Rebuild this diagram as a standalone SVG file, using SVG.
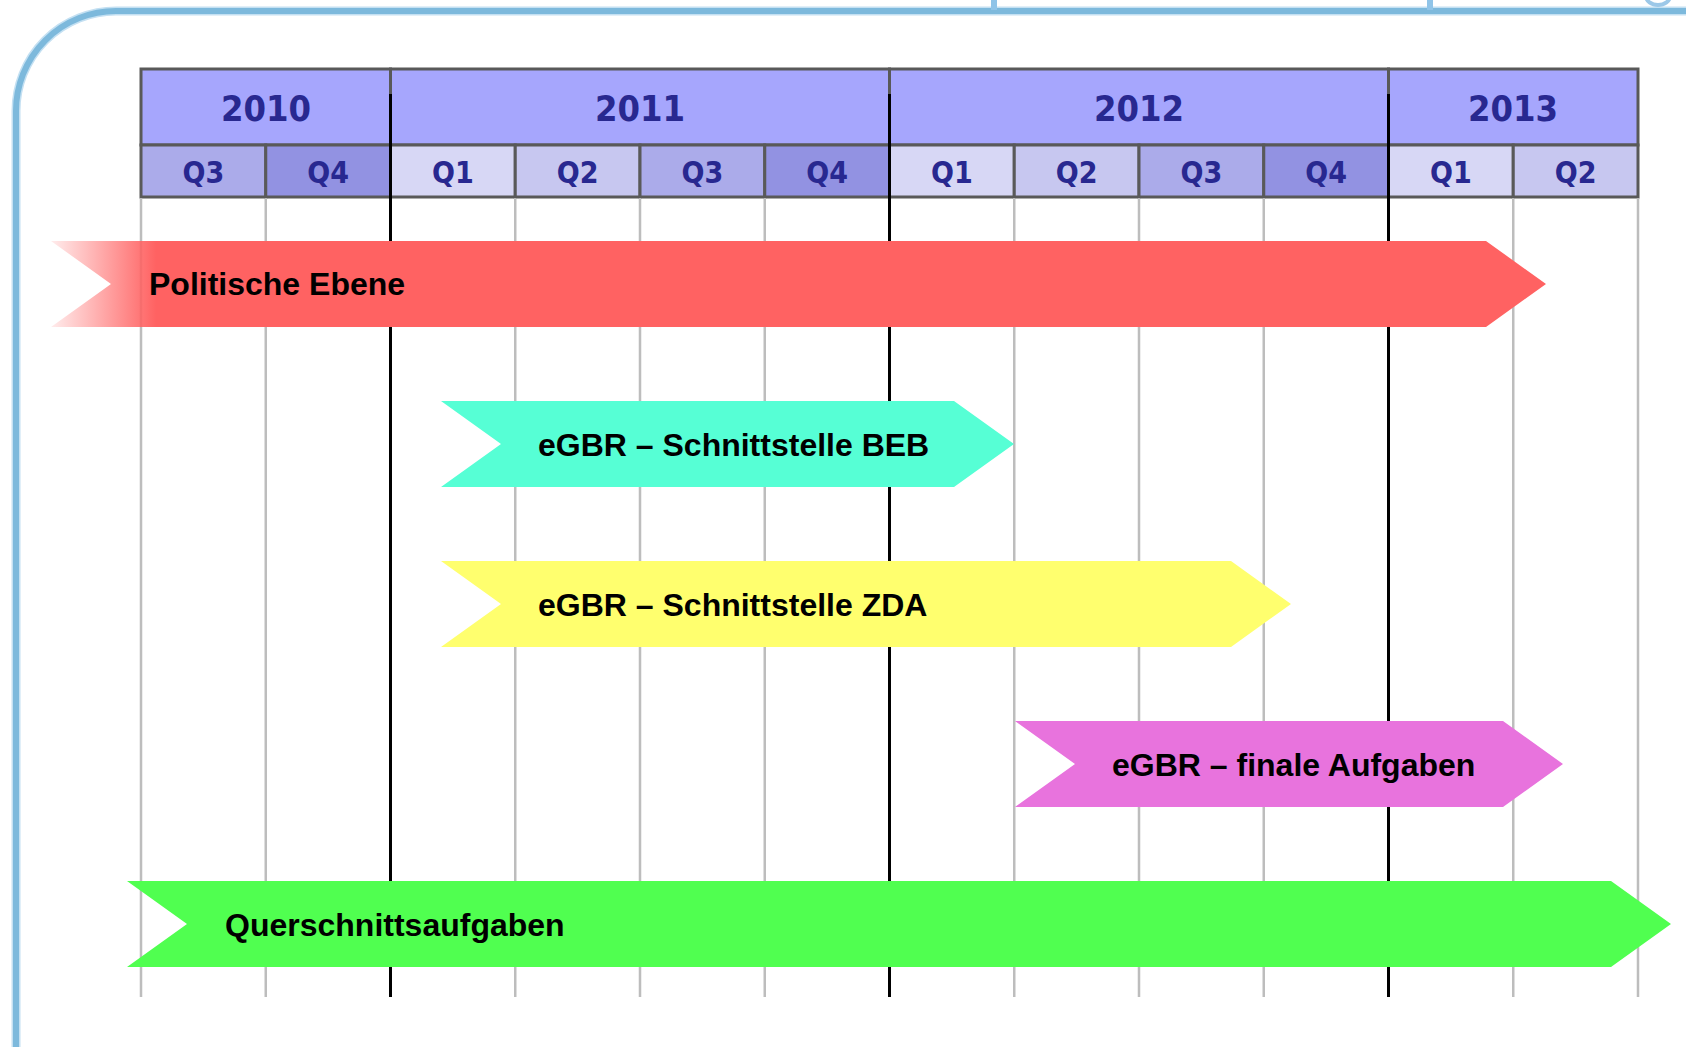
<svg xmlns="http://www.w3.org/2000/svg" width="1686" height="1047" viewBox="0 0 1686 1047">
<style>
.frame{fill:none;stroke:#7DB9DC;stroke-width:6}
.frameglow{fill:none;stroke:#C4E0F2;stroke-width:9}
.year{fill:#A6A6FD;stroke:#595959;stroke-width:3}
.q1{fill:#D7D7F5;stroke:#595959;stroke-width:3}
.q2{fill:#C7C7F0;stroke:#595959;stroke-width:3}
.q3{fill:#ABABEA;stroke:#595959;stroke-width:3}
.q4{fill:#9292E2;stroke:#595959;stroke-width:3}
.yt{font-family:"DejaVu Sans",sans-serif;font-stretch:condensed;font-weight:bold;font-size:36px;fill:#282890;text-anchor:middle}
.qt{font-family:"DejaVu Sans",sans-serif;font-stretch:condensed;font-weight:bold;font-size:30px;fill:#282890;text-anchor:middle}
.grid{stroke:#BDBDBD;stroke-width:2.5}
.ygrid{stroke:#000;stroke-width:3}
.bt{font-family:"Liberation Sans",Arial,sans-serif;font-weight:bold;font-size:32px;fill:#000}
</style>
<defs>
<linearGradient id="redfade" gradientUnits="userSpaceOnUse" x1="51" y1="0" x2="156" y2="0">
<stop offset="0" stop-color="#FF6262" stop-opacity="0.12"/>
<stop offset="1" stop-color="#FF6262" stop-opacity="1"/>
</linearGradient>
</defs>
<rect width="1686" height="1047" fill="#fff"/>
<g id="frame">
<path class="frameglow" d="M16,1047 L16,111 A100,100 0 0 1 116,11 L1686,11"/>
<path class="frame" d="M16,1047 L16,111 A100,100 0 0 1 116,11 L1686,11"/>
<line x1="994" y1="0" x2="994" y2="10" stroke="#90C4E8" stroke-width="6"/>
<line x1="1430" y1="0" x2="1430" y2="10" stroke="#90C4E8" stroke-width="6"/>
<path d="M1646,-4 A12,9 0 0 0 1670,-4" fill="none" stroke="#9CC8E8" stroke-width="4"/>
</g>
<g id="header">
<rect class="year" x="141" y="69" width="249.5" height="76"/>
<rect class="year" x="390.5" y="69" width="499" height="76"/>
<rect class="year" x="889.5" y="69" width="499" height="76"/>
<rect class="year" x="1388.5" y="69" width="249.5" height="76"/>
<text class="yt" x="266" y="121">2010</text>
<text class="yt" x="640" y="121">2011</text>
<text class="yt" x="1139" y="121">2012</text>
<text class="yt" x="1513" y="121">2013</text>
<rect class="q3" x="141" y="145" width="124.75" height="52"/>
<rect class="q4" x="265.75" y="145" width="124.75" height="52"/>
<rect class="q1" x="390.5" y="145" width="124.75" height="52"/>
<rect class="q2" x="515.25" y="145" width="124.75" height="52"/>
<rect class="q3" x="640" y="145" width="124.75" height="52"/>
<rect class="q4" x="764.75" y="145" width="124.75" height="52"/>
<rect class="q1" x="889.5" y="145" width="124.75" height="52"/>
<rect class="q2" x="1014.25" y="145" width="124.75" height="52"/>
<rect class="q3" x="1139" y="145" width="124.75" height="52"/>
<rect class="q4" x="1263.75" y="145" width="124.75" height="52"/>
<rect class="q1" x="1388.5" y="145" width="124.75" height="52"/>
<rect class="q2" x="1513.25" y="145" width="124.75" height="52"/>
<text class="qt" x="203.4" y="183">Q3</text>
<text class="qt" x="328.1" y="183">Q4</text>
<text class="qt" x="452.9" y="183">Q1</text>
<text class="qt" x="577.6" y="183">Q2</text>
<text class="qt" x="702.4" y="183">Q3</text>
<text class="qt" x="827.1" y="183">Q4</text>
<text class="qt" x="951.9" y="183">Q1</text>
<text class="qt" x="1076.6" y="183">Q2</text>
<text class="qt" x="1201.4" y="183">Q3</text>
<text class="qt" x="1326.1" y="183">Q4</text>
<text class="qt" x="1450.9" y="183">Q1</text>
<text class="qt" x="1575.6" y="183">Q2</text>
</g>
<g id="gridlines">
<line class="grid" x1="141" y1="198" x2="141" y2="997"/>
<line class="grid" x1="265.75" y1="198" x2="265.75" y2="997"/>
<line class="grid" x1="515.25" y1="198" x2="515.25" y2="997"/>
<line class="grid" x1="640" y1="198" x2="640" y2="997"/>
<line class="grid" x1="764.75" y1="198" x2="764.75" y2="997"/>
<line class="grid" x1="1014.25" y1="198" x2="1014.25" y2="997"/>
<line class="grid" x1="1139" y1="198" x2="1139" y2="997"/>
<line class="grid" x1="1263.75" y1="198" x2="1263.75" y2="997"/>
<line class="grid" x1="1513.25" y1="198" x2="1513.25" y2="997"/>
<line class="grid" x1="1638" y1="198" x2="1638" y2="997"/>
<line class="ygrid" x1="390.5" y1="94" x2="390.5" y2="997"/>
<line class="ygrid" x1="889.5" y1="94" x2="889.5" y2="997"/>
<line class="ygrid" x1="1388.5" y1="94" x2="1388.5" y2="997"/>
</g>
<g id="politische-ebene">
<polygon points="51,241 1486,241 1546,284 1486,327 51,327 111,284" fill="url(#redfade)"/>
<text class="bt" x="149" y="295">Politische Ebene</text>
</g>
<g id="schnittstelle-beb">
<polygon points="441,401 954,401 1014,444 954,487 441,487 501,444" fill="#56FFD5"/>
<text class="bt" x="538" y="456">eGBR – Schnittstelle BEB</text>
</g>
<g id="schnittstelle-zda">
<polygon points="441,561 1231,561 1291,604 1231,647 441,647 501,604" fill="#FFFF6E"/>
<text class="bt" x="538" y="616">eGBR – Schnittstelle ZDA</text>
</g>
<g id="finale-aufgaben">
<polygon points="1015,721 1503,721 1563,764 1503,807 1015,807 1075,764" fill="#E873DD"/>
<text class="bt" x="1112" y="776">eGBR – finale Aufgaben</text>
</g>
<g id="querschnittsaufgaben">
<polygon points="127,881 1611,881 1671,924 1611,967 127,967 187,924" fill="#50FF50"/>
<text class="bt" x="225" y="936">Querschnittsaufgaben</text>
</g>
<g id="connectors"></g>
</svg>
